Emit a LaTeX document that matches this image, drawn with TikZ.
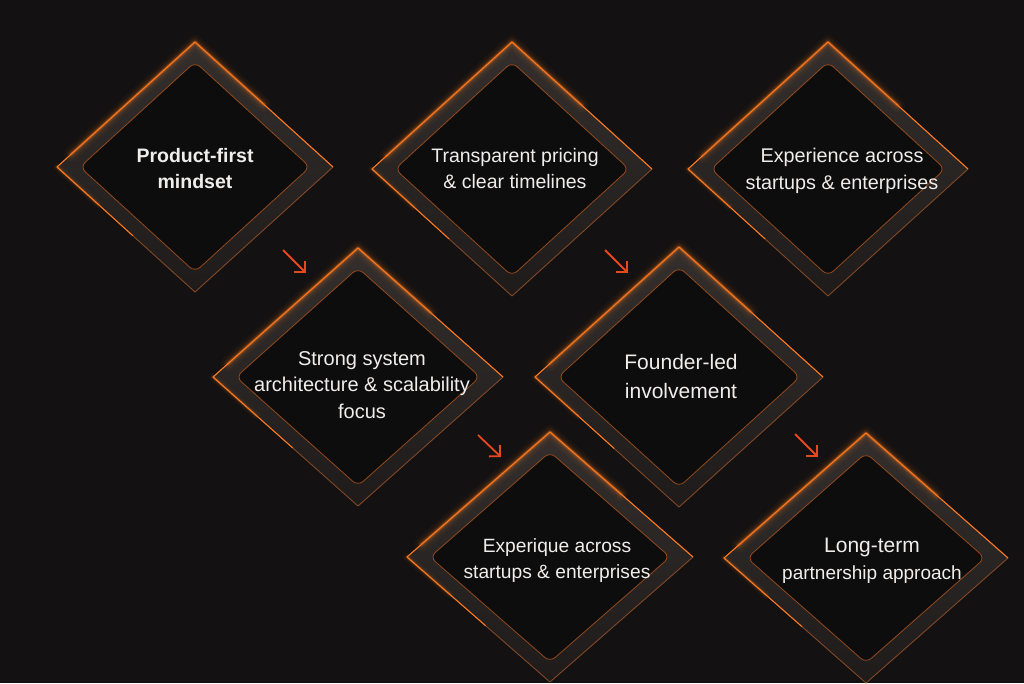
\documentclass[tikz,border=0pt]{standalone}
\usepackage{fontspec}
\setmainfont{Liberation Sans}
\usetikzlibrary{arrows.meta}
\definecolor{bg}{RGB}{19,17,17}
\definecolor{bandhi}{RGB}{52,47,45}
\definecolor{bandlo}{RGB}{30,27,26}
\definecolor{core}{RGB}{14,13,14}
\definecolor{glowc}{RGB}{255,122,30}
\definecolor{rimc}{RGB}{130,72,38}
\definecolor{innerc}{RGB}{170,82,28}
\definecolor{arrowc}{RGB}{232,72,30}
\definecolor{txtc}{RGB}{240,238,236}
\tikzset{
  gemtext/.style={text=txtc, align=center, inner sep=0pt},
  flowarrow/.style={draw=arrowc, line width=1.8pt, -{Straight Barb[length=8pt,width=16pt]}},
}
% name, cx, cy, hw, hh, tx, ty, font, text
\newcommand\gem[9]{%
  \shade[top color=bandhi, bottom color=bandlo]
    (#2-#4,#3) -- (#2,#3-#5) -- (#2+#4,#3) -- (#2,#3+#5) -- cycle;
  \foreach \w/\o in {14/0.04,9/0.07,5/0.14,2.6/0.35}{
    \draw[glowc, line width=\w pt, opacity=\o, line cap=round, line join=round]
      (#2-#4*0.9,#3-#5*0.1) -- (#2,#3-#5) -- (#2+#4*0.5,#3-#5*0.5);
  }
  \foreach \w/\o in {8/0.04,4/0.1,2/0.25}{
    \draw[glowc, line width=\w pt, opacity=\o, line cap=round]
      (#2-#4,#3) -- (#2-#4*0.7,#3+#5*0.3);
  }
  \draw[rimc, line width=0.9pt, line join=round]
    (#2-#4,#3) -- (#2,#3-#5) -- (#2+#4,#3) -- (#2,#3+#5) -- cycle;
  \draw[glowc, line width=1pt, line join=round]
    (#2-#4*0.45,#3+#5*0.55) -- (#2-#4,#3) -- (#2,#3-#5) -- (#2+#4,#3);
  \fill[core, rounded corners=7pt]
    (#2-#4+23,#3) -- (#2,#3-#5+20) -- (#2+#4-23,#3) -- (#2,#3+#5-20) -- cycle;
  \draw[innerc, line width=0.8pt, opacity=0.85, rounded corners=7pt]
    (#2-#4+23,#3) -- (#2,#3-#5+20) -- (#2+#4-23,#3) -- (#2,#3+#5-20) -- cycle;
  \node[gemtext, font=#8] (#1) at (#6,#7) {#9};
}
\begin{document}
\begin{tikzpicture}[x=1pt,y=-1pt]
\fill[bg] (0,0) rectangle (1024,683);
\useasboundingbox (0,0) rectangle (1024,683);

\gem{d1}{195}{167}{138}{125}{195}{169}{\bfseries\fontsize{19.5}{26}\selectfont}{Product-first\\mindset}
\gem{d2}{512}{169}{140}{127}{515}{169}{\fontsize{19.5}{26}\selectfont}{Transparent pricing\\\& clear timelines}
\gem{d3}{828}{169}{140}{127}{842}{171}{\fontsize{19.8}{27}\selectfont}{Experience across\\startups \& enterprises}
\gem{d4}{358}{377}{145}{129}{362}{385}{\fontsize{20}{26.5}\selectfont}{Strong system\\architecture \& scalability\\focus}
\gem{d5}{679}{377}{144}{130}{681}{376}{\fontsize{21}{29}\selectfont}{Founder-led\\involvement}
\gem{d6}{550}{557}{143}{125}{557}{561}{\fontsize{19.2}{26}\selectfont}{Experique across\\startups \& enterprises}
\gem{d7}{866}{558}{142}{125}{872}{561}{\fontsize{19}{27}\selectfont}{{\fontsize{21}{27}\selectfont Long-term}\\partnership approach}

\coordinate (a1s) at (283,250); \coordinate (a1e) at (306,273);
\coordinate (a2s) at (605,250); \coordinate (a2e) at (628,273);
\coordinate (a3s) at (478,435); \coordinate (a3e) at (501,457);
\coordinate (a4s) at (795,434); \coordinate (a4e) at (818,457);
\draw[flowarrow] (a1s) -- (a1e);
\draw[flowarrow] (a2s) -- (a2e);
\draw[flowarrow] (a3s) -- (a3e);
\draw[flowarrow] (a4s) -- (a4e);
\end{tikzpicture}
\end{document}
